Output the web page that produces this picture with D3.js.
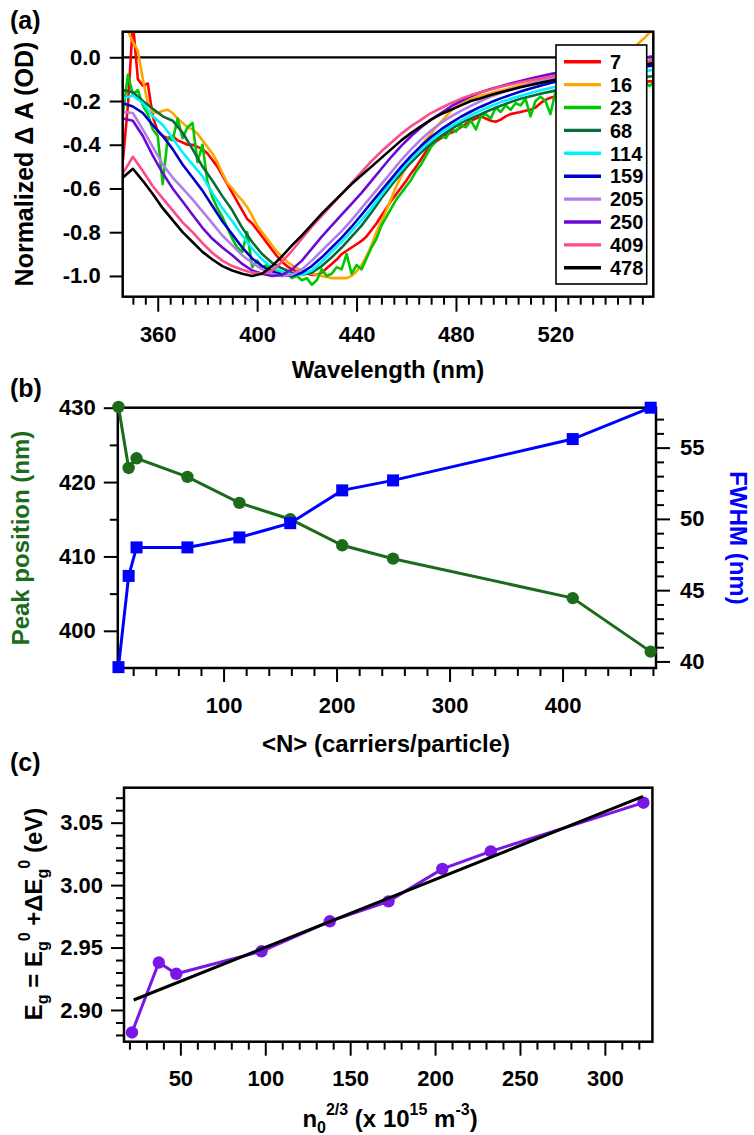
<!DOCTYPE html>
<html>
<head>
<meta charset="utf-8">
<script src="https://cdn.jsdelivr.net/npm/d3@7"></script>
<style>
  body { margin: 0; background: #fff; }
  svg { display: block; }
</style>
</head>
<body>
<svg id="fig" width="754" height="1135"></svg>
<script>
// ---------- Panel (a): normalized transient absorption spectra ----------
const wlFine = [346,348,350,352,354,356,358,360,362,364,366,368,370,372,374,376,378,380,382,384,386,388,390,392,394,396,398,400,
  402,404,406,408,410,412,414,416,418,420,422,424,426,428,430,432,434,436,438,440,442,444,446,448,450,452,454,456,458,460,462,464,466,468,470,472,474,476,478,480,482,484,486,488,490,492,494,496,498,500,
  502,504,506,508,510,512,514,516,518,520,522,524,526,528,530,532,534,536,538,540,542,544,546,548,550,552,554,556,558,560,562];
const wlCoarse = [346,350,354,358,362,366,370,374,378,382,386,390,394,398,402,406,410,414,418,422,426,430,434,438,442,446,450,454,458,462,466,470,474,478,482,486,490,494,498,502,506,510,514,518,522,526,530,534,538,542,546,550,554,558,562];

const dA_N7 = [-0.47,-0.22,0.16,-0.10,-0.13,-0.12,-0.27,-0.34,-0.36,-0.37,-0.36,-0.38,-0.39,-0.40,-0.40,-0.41,-0.42,-0.44,-0.47,-0.50,-0.54,-0.58,-0.62,-0.66,-0.70,-0.74,-0.76,-0.79,
  -0.82,-0.85,-0.88,-0.91,-0.935,-0.955,-0.97,-0.98,-0.99,-0.99,-0.995,-0.995,-0.985,-0.965,-0.945,-0.925,-0.90,-0.885,-0.87,-0.855,-0.84,-0.82,-0.79,-0.76,-0.725,-0.69,-0.655,-0.625,-0.595,-0.565,-0.53,-0.50,-0.465,-0.43,-0.405,-0.385,-0.37,-0.355,-0.345,-0.335,-0.32,-0.305,-0.29,-0.28,-0.27,-0.28,-0.29,-0.295,-0.285,-0.27,
  -0.26,-0.255,-0.25,-0.245,-0.24,-0.23,-0.21,-0.195,-0.185,-0.18,-0.175,-0.17,-0.165,-0.16,-0.155,-0.15,-0.145,-0.14,-0.135,-0.13,-0.128,-0.125,-0.122,-0.12,-0.118,-0.116,-0.114,-0.112,-0.11,-0.108,-0.106];
const dA_N16 = [0.16,0.12,0.07,0.03,-0.10,-0.21,-0.25,-0.255,-0.245,-0.24,-0.255,-0.28,-0.30,-0.32,-0.33,-0.35,-0.38,-0.41,-0.44,-0.48,-0.53,-0.575,-0.60,-0.63,-0.655,-0.685,-0.725,-0.77,
  -0.80,-0.83,-0.86,-0.89,-0.91,-0.935,-0.95,-0.965,-0.975,-0.985,-0.99,-0.995,-1.0,-1.005,-1.01,-1.01,-1.01,-1.01,-1.0,-0.98,-0.95,-0.91,-0.86,-0.80,-0.75,-0.70,-0.645,-0.59,-0.545,-0.50,-0.465,-0.435,-0.405,-0.375,-0.35,-0.32,-0.295,-0.27,-0.245,-0.226,-0.21,-0.198,-0.19,-0.183,-0.176,-0.17,-0.164,-0.158,-0.152,-0.147,
  -0.14,-0.134,-0.128,-0.122,-0.116,-0.11,-0.104,-0.097,-0.09,-0.083,-0.077,-0.07,-0.064,-0.058,-0.052,-0.046,-0.04,-0.034,-0.028,-0.022,-0.015,-0.008,0.0,0.01,0.025,0.045,0.07,0.09,0.115,0.14,0.165];
const dA_N23 = [-0.26,-0.08,-0.17,-0.15,-0.22,-0.26,-0.33,-0.36,-0.58,-0.37,-0.38,-0.28,-0.37,-0.32,-0.30,-0.48,-0.40,-0.57,-0.64,-0.69,-0.73,-0.78,-0.83,-0.87,-0.89,-0.80,-0.96,-0.93,
  -0.96,-0.95,-0.98,-0.97,-1.0,-0.99,-1.01,-1.0,-1.02,-1.01,-1.04,-1.02,-0.97,-1.0,-0.99,-0.96,-0.97,-0.90,-0.99,-0.95,-0.97,-0.92,-0.87,-0.83,-0.77,-0.73,-0.69,-0.65,-0.62,-0.59,-0.56,-0.52,-0.49,-0.45,-0.41,-0.38,-0.36,-0.37,-0.33,-0.34,-0.31,-0.32,-0.29,-0.33,-0.27,-0.26,-0.28,-0.23,-0.25,-0.22,
  -0.24,-0.21,-0.22,-0.19,-0.27,-0.20,-0.18,-0.20,-0.26,-0.16,-0.17,-0.15,-0.16,-0.14,-0.15,-0.13,-0.15,-0.13,-0.14,-0.12,-0.14,-0.13,-0.14,-0.12,-0.14,-0.13,-0.14,-0.12,-0.13,-0.11,-0.12];
const dA_N68 = [-0.15,-0.16,-0.20,-0.235,-0.27,-0.29,-0.345,-0.42,-0.50,-0.565,-0.635,-0.70,-0.78,-0.845,-0.90,-0.94,-0.965,-0.985,-0.995,-0.985,-0.955,-0.915,-0.87,-0.82,-0.77,-0.71,-0.645,-0.585,-0.53,-0.48,-0.435,-0.395,-0.36,-0.33,-0.30,-0.28,-0.26,-0.24,-0.222,-0.205,-0.19,-0.178,-0.167,-0.157,-0.148,-0.139,-0.131,-0.123,-0.116,-0.109,-0.103,-0.097,-0.092,-0.088,-0.085];
const dA_N114 = [-0.19,-0.175,-0.21,-0.27,-0.31,-0.37,-0.435,-0.49,-0.545,-0.62,-0.69,-0.75,-0.815,-0.875,-0.925,-0.96,-0.98,-0.995,-0.995,-0.975,-0.935,-0.89,-0.845,-0.795,-0.745,-0.69,-0.63,-0.57,-0.515,-0.465,-0.42,-0.38,-0.345,-0.315,-0.29,-0.265,-0.243,-0.223,-0.205,-0.19,-0.176,-0.163,-0.151,-0.14,-0.13,-0.12,-0.111,-0.102,-0.094,-0.086,-0.079,-0.072,-0.066,-0.06,-0.054];
const dA_N159 = [-0.21,-0.225,-0.255,-0.31,-0.36,-0.42,-0.49,-0.55,-0.61,-0.68,-0.75,-0.81,-0.87,-0.92,-0.955,-0.98,-0.995,-1.0,-0.985,-0.955,-0.915,-0.87,-0.825,-0.775,-0.72,-0.665,-0.61,-0.555,-0.50,-0.45,-0.405,-0.365,-0.33,-0.30,-0.272,-0.248,-0.226,-0.206,-0.188,-0.172,-0.157,-0.143,-0.13,-0.118,-0.107,-0.097,-0.088,-0.08,-0.072,-0.065,-0.058,-0.052,-0.046,-0.04,-0.034];
const dA_N205 = [-0.25,-0.255,-0.33,-0.41,-0.49,-0.55,-0.60,-0.65,-0.705,-0.76,-0.815,-0.86,-0.905,-0.94,-0.97,-0.99,-1.0,-0.995,-0.97,-0.93,-0.885,-0.84,-0.795,-0.745,-0.69,-0.635,-0.58,-0.525,-0.47,-0.42,-0.375,-0.335,-0.30,-0.27,-0.245,-0.222,-0.20,-0.18,-0.163,-0.148,-0.134,-0.121,-0.109,-0.098,-0.088,-0.079,-0.07,-0.062,-0.055,-0.048,-0.041,-0.035,-0.029,-0.024,-0.019];
const dA_N250 = [-0.28,-0.29,-0.36,-0.45,-0.53,-0.60,-0.66,-0.72,-0.78,-0.83,-0.87,-0.905,-0.945,-0.975,-0.99,-1.0,-0.995,-0.97,-0.93,-0.875,-0.82,-0.77,-0.72,-0.67,-0.62,-0.565,-0.51,-0.455,-0.405,-0.36,-0.32,-0.285,-0.255,-0.225,-0.20,-0.178,-0.16,-0.145,-0.132,-0.12,-0.108,-0.097,-0.087,-0.077,-0.068,-0.06,-0.052,-0.044,-0.037,-0.03,-0.023,-0.016,-0.008,0.002,0.01];
const dA_N409 = [-0.53,-0.455,-0.52,-0.59,-0.645,-0.70,-0.755,-0.80,-0.85,-0.895,-0.93,-0.955,-0.972,-0.985,-0.99,-0.975,-0.935,-0.885,-0.83,-0.775,-0.725,-0.675,-0.625,-0.575,-0.525,-0.475,-0.43,-0.39,-0.35,-0.315,-0.285,-0.255,-0.232,-0.21,-0.19,-0.173,-0.16,-0.147,-0.135,-0.124,-0.114,-0.105,-0.097,-0.089,-0.082,-0.075,-0.068,-0.061,-0.054,-0.047,-0.04,-0.032,-0.024,-0.015,-0.008];
const dA_N478 = [-0.55,-0.51,-0.565,-0.625,-0.69,-0.745,-0.80,-0.845,-0.89,-0.925,-0.955,-0.975,-0.99,-1.0,-0.99,-0.955,-0.91,-0.86,-0.815,-0.765,-0.715,-0.67,-0.625,-0.58,-0.54,-0.50,-0.46,-0.42,-0.38,-0.345,-0.315,-0.285,-0.26,-0.24,-0.22,-0.20,-0.187,-0.173,-0.16,-0.148,-0.137,-0.127,-0.117,-0.107,-0.098,-0.09,-0.083,-0.076,-0.069,-0.062,-0.055,-0.047,-0.04,-0.03,-0.02];

const legendLabels = ["7","16","23","68","114","159","205","250","409","478"];
const wlTicks = [360,400,440,480,520];
const dATicks = [0,-0.2,-0.4,-0.6,-0.8,-1.0];

// ---------- Panel (b): peak position and FWHM vs carriers per particle ----------
const carriers = [7,16,23,68,114,159,205,250,409,478];
const peakPosition = [430.1,421.9,423.2,420.7,417.2,415.0,411.5,409.7,404.4,397.2];
const fwhm = [39.6,46.0,48.0,48.0,48.7,49.7,52.0,52.7,55.6,57.8];
const carrierTicks = [100,200,300,400];
const peakTicks = [400,410,420,430];
const fwhmTicks = [40,45,50,55];

// ---------- Panel (c): band gap vs n0^(2/3) ----------
const density23 = [21.5,37.3,47.6,97.8,138.0,172.6,204.3,232.8,322.7];
const bandGap = [2.882,2.938,2.929,2.947,2.971,2.987,3.013,3.027,3.066];
const fitDensity = [22.5,322.5];
const fitGap = [2.908,3.071];
const densityTicks = [50,100,150,200,250,300];
const gapTicks = [2.90,2.95,3.00,3.05];

// ---------- drawing ----------
const FONT = "'Liberation Sans', Arial, Helvetica, sans-serif";
const svg = d3.select("#fig");
svg.append("rect").attr("width",754).attr("height",1135).attr("fill","#fff");

function axis(g, make, scale, values, size, fmt, pad, fontSize) {
  const ax = make(scale).tickValues(values).tickSize(size).tickSizeOuter(0)
    .tickPadding(pad).tickFormat(fmt || (() => ""));
  const a = g.append("g").call(ax);
  a.select(".domain").remove();
  a.attr("font-family", FONT).attr("font-weight", "bold").attr("font-size", fontSize || 22);
  a.selectAll("line").attr("stroke", "#000").attr("stroke-width", 2);
  a.selectAll("text").attr("fill", "#000");
  return a;
}
function frame(x0, y0, x1, y1) {
  svg.append("rect").attr("x", x0).attr("y", y0).attr("width", x1 - x0).attr("height", y1 - y0)
    .attr("fill", "none").attr("stroke", "#000").attr("stroke-width", 2.5);
}
function label(x, y, txt, opts) {
  opts = opts || {};
  const t = svg.append("text").attr("font-family", FONT).attr("font-weight", "bold")
    .attr("font-size", opts.size || 24).attr("fill", opts.color || "#000")
    .attr("text-anchor", opts.anchor || "middle")
    .attr("transform", `translate(${x},${y})` + (opts.rotate ? ` rotate(${opts.rotate})` : ""));
  if (typeof txt === "string") t.text(txt);
  else rich(t, txt, opts.size || 24, opts.small || 16);
  return t;
}
function rich(t, parts, base, small) {
  let cur = 0;
  parts.forEach(p => {
    const off = p.s === "sub" ? small * 0.4 : p.s === "sup" ? -base * 0.5 : 0;
    t.append("tspan").attr("dy", off - cur).attr("font-size", p.s ? small : base).text(p.t);
    cur = off;
  });
}
const fmt1 = d => (Math.abs(d) < 1e-9 ? "0.0" : d.toFixed(1));

// ===== Panel (a) =====
const xA = d3.scaleLinear().domain([345.9, 559.4]).range([122.7, 653.3]);
const yA = d3.scaleLinear().domain([-1.095, 0.117]).range([296.7, 31.7]);

svg.append("clipPath").attr("id", "clipA").append("rect")
  .attr("x", 122.7).attr("y", 31.7).attr("width", 653.3 - 122.7).attr("height", 296.7 - 31.7);

svg.append("line").attr("x1", xA.range()[0]).attr("x2", xA.range()[1])
  .attr("y1", yA(0)).attr("y2", yA(0)).attr("stroke", "#000").attr("stroke-width", 2.2);

const spectra = [
  { x: wlFine, y: dA_N7, color: "#ff0000" },
  { x: wlFine, y: dA_N16, color: "#ffa500" },
  { x: wlFine, y: dA_N23, color: "#00c800" },
  { x: wlCoarse, y: dA_N68, color: "#0b6a3c" },
  { x: wlCoarse, y: dA_N114, color: "#00f2ff" },
  { x: wlCoarse, y: dA_N159, color: "#0000cc" },
  { x: wlCoarse, y: dA_N205, color: "#b07ee6" },
  { x: wlCoarse, y: dA_N250, color: "#6a0ad6" },
  { x: wlCoarse, y: dA_N409, color: "#ff4b8c" },
  { x: wlCoarse, y: dA_N478, color: "#000000" }
];
const lineA = d3.line().x(d => xA(d[0])).y(d => yA(d[1]));
const gSpec = svg.append("g").attr("clip-path", "url(#clipA)");
spectra.forEach(s => {
  gSpec.append("path").datum(s.x.map((w, i) => [w, s.y[i]]))
    .attr("d", lineA).attr("fill", "none").attr("stroke", s.color)
    .attr("stroke-width", 2.6).attr("stroke-linejoin", "round");
});

const gAx = svg.append("g").attr("transform", `translate(0,${yA.range()[0]})`);
axis(gAx, d3.axisBottom, xA, d3.range(350, 559, 5).filter(v => !wlTicks.includes(v)), 8);
axis(gAx, d3.axisBottom, xA, wlTicks, 15, d => d, 15);
const gAy = svg.append("g").attr("transform", `translate(${xA.range()[0]},0)`);
axis(gAy, d3.axisLeft, yA, dATicks, 13, fmt1, 9);
frame(122.7, 31.7, 653.3, 296.7);

// legend
const lg = svg.append("g");
lg.append("rect").attr("x", 556).attr("y", 45).attr("width", 90.7).attr("height", 239)
  .attr("fill", "#fff").attr("stroke", "#000").attr("stroke-width", 1.6);
legendLabels.forEach((lab, i) => {
  const y = 61.7 + i * 22.9;
  lg.append("line").attr("x1", 564).attr("x2", 601).attr("y1", y).attr("y2", y)
    .attr("stroke", spectra[i].color).attr("stroke-width", 3.4);
  lg.append("text").attr("x", 610).attr("y", y).attr("dy", "0.36em")
    .attr("font-family", FONT).attr("font-weight", "bold").attr("font-size", 20).text(lab);
});

label(388, 378, "Wavelength (nm)");
label(33, 164, "Normalized Δ A (OD)", { rotate: -90, size: 25 });
label(10, 29, "(a)", { anchor: "start", size: 25 });

// ===== Panel (b) =====
const xB = d3.scaleLinear().domain([6.4, 482.7]).range([117.8, 656]);
const yBL = d3.scaleLinear().domain([395, 430]).range([668, 407.7]);
const yBR = d3.scaleLinear().domain([39.54, 57.8]).range([668, 407.7]);

const gBx = svg.append("g").attr("transform", "translate(0,668)");
axis(gBx, d3.axisBottom, xB, d3.range(20, 481, 20).filter(v => v % 100 !== 0), 8);
axis(gBx, d3.axisBottom, xB, carrierTicks, 14, d => d, 15);
const gBl = svg.append("g").attr("transform", "translate(117.8,0)");
axis(gBl, d3.axisLeft, yBL, [405, 415, 425], 8);
axis(gBl, d3.axisLeft, yBL, peakTicks, 14, d => d, 8);
const gBr = svg.append("g").attr("transform", "translate(656,0)");
axis(gBr, d3.axisRight, yBR, d3.range(40, 58, 1).filter(v => v % 5 !== 0), 8);
axis(gBr, d3.axisRight, yBR, fwhmTicks, 14, d => d, 10);
frame(117.8, 407.7, 656, 668);

const peakPts = carriers.map((n, i) => [n, peakPosition[i]]);
const fwhmPts = carriers.map((n, i) => [n, fwhm[i]]);
svg.append("path").datum(peakPts)
  .attr("d", d3.line().x(d => xB(d[0])).y(d => yBL(d[1])))
  .attr("fill", "none").attr("stroke", "#1b6b1b").attr("stroke-width", 3);
svg.append("g").selectAll("circle").data(peakPts).join("circle")
  .attr("cx", d => xB(d[0])).attr("cy", d => yBL(d[1])).attr("r", 6.2).attr("fill", "#1b6b1b");
svg.append("path").datum(fwhmPts)
  .attr("d", d3.line().x(d => xB(d[0])).y(d => yBR(d[1])))
  .attr("fill", "none").attr("stroke", "#0000ff").attr("stroke-width", 3);
svg.append("g").selectAll("rect").data(fwhmPts).join("rect")
  .attr("x", d => xB(d[0]) - 6).attr("y", d => yBR(d[1]) - 6)
  .attr("width", 12).attr("height", 12).attr("fill", "#0000ff");

label(386, 752, "<N> (carriers/particle)");
label(29, 538, "Peak position (nm)", { rotate: -90, color: "#1b6b1b" });
label(730, 538, "FWHM (nm)", { rotate: 90, color: "#0000ff" });
label(10, 397, "(b)", { anchor: "start", size: 25 });

// ===== Panel (c) =====
const xC = d3.scaleLinear().domain([16.8, 328]).range([124, 652.4]);
const yC = d3.scaleLinear().domain([2.8746, 3.078]).range([1041.7, 787.7]);

const gCx = svg.append("g").attr("transform", "translate(0,1041.7)");
axis(gCx, d3.axisBottom, xC, d3.range(20, 321, 10).filter(v => v % 50 !== 0), 8);
axis(gCx, d3.axisBottom, xC, densityTicks, 14, d => d, 15);
const gCy = svg.append("g").attr("transform", "translate(124,0)");
axis(gCy, d3.axisLeft, yC, d3.range(288, 308, 1).filter(v => v % 5 !== 0).map(v => v / 100), 8);
axis(gCy, d3.axisLeft, yC, gapTicks, 13, d => d.toFixed(2), 8);
frame(124, 787.7, 652.4, 1041.7);

const gapPts = density23.map((n, i) => [n, bandGap[i]]);
svg.append("path").datum(gapPts)
  .attr("d", d3.line().x(d => xC(d[0])).y(d => yC(d[1])))
  .attr("fill", "none").attr("stroke", "#7a17e6").attr("stroke-width", 3);
svg.append("g").selectAll("circle").data(gapPts).join("circle")
  .attr("cx", d => xC(d[0])).attr("cy", d => yC(d[1])).attr("r", 6.2).attr("fill", "#7a17e6");
svg.append("path").datum(fitDensity.map((n, i) => [n, fitGap[i]]))
  .attr("d", d3.line().x(d => xC(d[0])).y(d => yC(d[1])))
  .attr("fill", "none").attr("stroke", "#000").attr("stroke-width", 3);

label(390, 1127, [{ t: "n" }, { t: "0", s: "sub" }, { t: "2/3", s: "sup" }, { t: " (x 10" },
  { t: "15", s: "sup" }, { t: " m" }, { t: "-3", s: "sup" }, { t: ")" }]);
label(42, 914, [{ t: "E" }, { t: "g", s: "sub" }, { t: " = E" }, { t: "g", s: "sub" }, { t: "0", s: "sup" },
  { t: " +ΔE" }, { t: "g", s: "sub" }, { t: "0", s: "sup" }, { t: " (eV)" }], { rotate: -90 });
label(10, 771, "(c)", { anchor: "start", size: 25 });
</script>
</body>
</html>
